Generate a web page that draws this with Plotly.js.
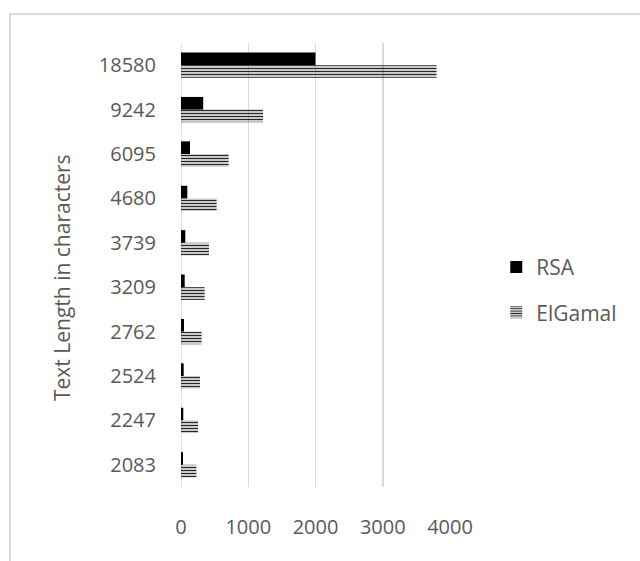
<!DOCTYPE html>
<html>
<head>
<meta charset="utf-8">
<script src="https://cdn.plot.ly/plotly-3.0.1.min.js"></script>
<style>
  html, body { margin: 0; padding: 0; background: #fff; }
  #wrap { position: relative; width: 640px; height: 561px; overflow: hidden; }
  #chart { position: absolute; left: 0; top: 0; width: 640px; height: 561px; }
  #frame { position: absolute; left: 9px; top: 13px; width: 700px; height: 600px;
           border-left: 2px solid #d9d9d9; border-top: 2px solid #d9d9d9; pointer-events: none; }
</style>
</head>
<body>
<div id="wrap">
  <div id="chart"></div>
  <div id="frame"></div>
</div>
<script>
const categories = ["2083", "2247", "2524", "2762", "3209", "3739", "4680", "6095", "9242", "18580"];
const rsaValues = [30, 34, 40, 45, 55, 64, 94, 134, 330, 2000];
const elgamalValues = [230, 253, 282, 307, 352, 416, 530, 708, 1220, 3800];
const xTicks = [0, 1000, 2000, 3000, 4000];
const yTitle = 'Text Length in characters';

const textColor = '#595959';
const fontFam = '"Open Sans", "Noto Sans", sans-serif';

const traces = [
  {
    type: 'bar', orientation: 'h', name: 'ElGamal',
    y: categories, x: elgamalValues,
    legendgroup: 'g2', legendrank: 2,
    marker: {
      color: '#a6a6a6',
      line: {width: 0},
      pattern: {shape: '-', fgcolor: '#262626', size: 3, solidity: 0.5}
    }
  },
  {
    type: 'bar', orientation: 'h', name: 'RSA',
    y: categories, x: rsaValues,
    legendgroup: 'g1', legendrank: 1,
    marker: {color: '#000000', line: {width: 0}}
  }
];

const layout = {
  width: 640, height: 561,
  margin: {l: 181, r: 190, t: 43, b: 74, pad: 0},
  paper_bgcolor: '#ffffff', plot_bgcolor: '#ffffff',
  barmode: 'group', bargap: 0.43, bargroupgap: 0,
  font: {family: fontFam, color: textColor, size: 20},
  showlegend: true,
  legend: {
    x: 1.172, y: 0.444, xanchor: 'left', yanchor: 'middle',
    traceorder: 'grouped', tracegroupgap: 15,
    font: {family: fontFam, color: textColor, size: 21},
    itemwidth: 30, bgcolor: 'rgba(0,0,0,0)'
  },
  xaxis: {
    range: [0, 4000], tickvals: xTicks, ticktext: xTicks.map(String),
    showgrid: true, gridcolor: '#d9d9d9', gridwidth: 1.5,
    zeroline: false, showline: false, ticks: '',
    ticklabelstandoff: 26,
    tickfont: {family: fontFam, color: textColor, size: 20},
    fixedrange: true
  },
  yaxis: {
    type: 'category', categoryorder: 'array', categoryarray: categories,
    showgrid: false, zeroline: false, showline: false, ticks: '',
    ticklabelstandoff: 24,
    tickfont: {family: fontFam, color: textColor, size: 20},
    fixedrange: true
  },
  annotations: [
    {text: yTitle, xref: 'paper', yref: 'paper',
     x: (62 - 181) / 269, y: (487 - 278) / 444,
     xanchor: 'center', yanchor: 'middle', textangle: -90, showarrow: false,
     font: {family: fontFam, color: textColor, size: 21}}
  ],
  shapes: [
    {type: 'line', xref: 'x', yref: 'paper', x0: 0, x1: 0, y0: 0, y1: 1,
     line: {color: '#d9d9d9', width: 1.5}, layer: 'below'}
  ]
};

Plotly.newPlot('chart', traces, layout, {displayModeBar: false, staticPlot: true});
</script>
</body>
</html>
